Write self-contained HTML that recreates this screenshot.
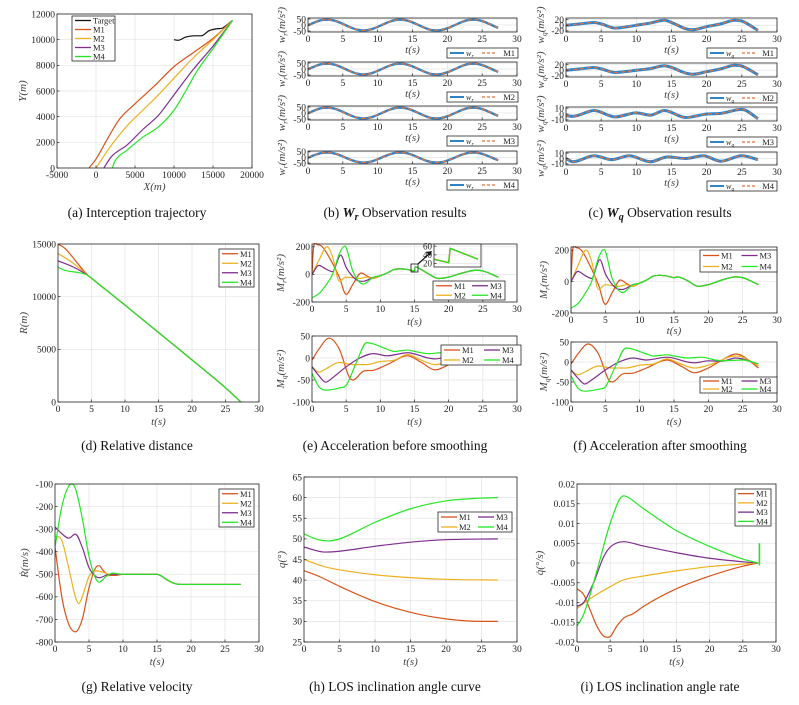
<!DOCTYPE html>
<html><head><meta charset="utf-8"><style>
html,body{margin:0;padding:0;background:#fff}
svg{display:block}
text{font-family:"Liberation Serif",serif}
</style></head><body>
<svg id="fig" xmlns="http://www.w3.org/2000/svg" width="799" height="705" viewBox="0 0 799 705"></svg>
<script>
// ---------- DATA ----------
const C1='#D95319',C2='#EDB120',C3='#7E2F8E',C4='#22E822',CB='#2f84c8',CT='#111';
// (a) trajectories [X,Y]
const trajTarget=[[10000,10000],[10500,9950],[11500,10200],[12500,10300],[13500,10300],[14500,10700],[15500,10850],[16200,10900],[17500,11500]];
const trajM1=[[-900,0],[0,700],[1500,2300],[3000,3800],[5000,5000],[7500,6400],[10000,7900],[12500,9000],[15000,10100],[17500,11500]];
const trajM2=[[0,0],[2000,1800],[4000,3300],[6000,4500],[8000,5700],[10000,7000],[12500,8600],[15000,10000],[17500,11500]];
const trajM3=[[1000,0],[2000,900],[4000,1800],[6000,3000],[8000,4100],[10000,5700],[12500,7700],[15000,9500],[17500,11500]];
const trajM4=[[2100,0],[2400,500],[4000,1400],[6000,2400],[8000,3200],[10000,4500],[11500,6000],[13000,7600],[15000,9300],[17500,11500]];
// (b) w_r observation
const wrObs=[[0,-2.7],[1,23.1],[2,40.8],[3,44.4],[4,32.5],[5,9.4],[6,-17.1],[7,-37.6],[8,-45],[9,-36.8],[10,-15.8],[11,10.7],[12,33.4],[13,44.6],[14,40.2],[15,21.9],[16,-4],[17,-28.6],[18,-43.2],[19,-42.8],[20,-27.5],[21,-2.7],[22,23.1],[23,40.8],[24,44.4],[25,32.5],[26,9.4],[27,-17.1],[27.3,-24]];
// (c) w_q observation
const wqM1=[[0,0],[2,5],[4,10],[5,5],[7,-10],[8,-8],[10,0],[12,8],[14,18],[15,10],[17,-12],[18,-16],[20,-5],[22,5],[24,18],[25,15],[27.3,-18]];
const wqM2=[[0,0],[2,5],[4,10],[5,5],[7,-8],[8,-6],[10,0],[12,6],[14,16],[15,10],[17,-10],[18,-14],[20,-5],[22,5],[24,18],[25,15],[27.3,-16]];
const wqM3=[[0,-3],[1,-4],[4,6],[7,-5],[10,2],[12,-2],[14,6],[17,-6],[20,0],[22,1],[25,8],[27.3,-8]];
const wqM4=[[0,0],[1,-6],[4,5],[6.5,-2],[9,5],[12,-6],[14.5,3],[17,0],[19.5,5],[22,-5],[25,5],[27.3,-2]];
// (d) relative distance
const rTail=[[5,11750],[10,9200],[15,6600],[20,4000],[25,1350],[27.3,0]];
const rM1=[[0,15000],[1,14600],[2,13900],[3,13100],[4.5,12000]];
const rM2=[[0,14100],[2,13300],[4.5,12000]];
const rM3=[[0,13400],[2,12900],[4.5,12000]];
const rM4=[[0,12800],[1,12500],[3,12300],[4,12150],[4.5,12000]];
// (e) Mr before smoothing
const mrTail=[[10,-10],[11,10],[12,35],[13,40],[14,35],[15,25],[15.1,55],[16,35],[17,5],[18.5,-30],[20,-20],[22,10],[24,30],[25,25],[27.3,-20]];
const mrTailSmooth=[[10,-10],[11,10],[12,35],[13,40],[14,35],[15,25],[15.5,30],[16,25],[17,5],[18.5,-30],[20,-20],[22,10],[24,30],[25,25],[27.3,-20]];
const mrM1=[[0,0],[0.2,180],[0.8,215],[1.5,200],[3,80],[4,-20],[5,-145],[6,-70],[7.2,10],[8,-10],[9,-30]];
const mrM2=[[0,0],[1,100],[2.2,200],[3,130],[4,-50],[5,-20],[7,-30],[8,-20],[9,-30]];
const mrM3=[[0,0],[1,65],[2,40],[3,20],[4.2,140],[5,50],[6.5,-40],[7.5,-50],[9,-20]];
const mrM4=[[0,-170],[1,-140],[2,-80],[3,0],[4,150],[4.8,205],[6,20],[7.5,-70],[9,-20]];
// (e)(f) Mq
const mqM1=[[0,-5],[1,20],[2.5,45],[4,20],[5.5,-45],[6,-50],[7.5,-30],[9,-28],[11,-15],[14,5],[16,-10],[18,-27],[20,-15],[22,5],[24,20],[25,15],[27.3,-15]];
const mqM2=[[0,-20],[1,-32],[2,-25],[4,-10],[6,-15],[8,-15],[10,-8],[12,-5],[14,8],[16,-5],[18,-15],[20,-8],[24,15],[25,12],[27.3,-10]];
const mqM3=[[0,-20],[1,-40],[2,-55],[3,-45],[5,-20],[7,0],[9,10],[11,5],[14,12],[17,0],[18,-2],[20,3],[22,2],[24,10],[27.3,-5]];
const mqM4=[[0,-35],[1,-65],[2,-73],[4,-68],[5,-62],[6.5,-10],[8,35],[9,32],[11,20],[12,15],[14,18],[15,15],[17,10],[19,12],[21,5],[22,3],[25,5],[27.3,-5]];
// inset
const insetLine=[[14.5,30],[15.0,22],[15.05,55],[16,30]];
// (g) relative velocity
const vTail=[[15,-500],[15.5,-505],[16.5,-525],[17.5,-540],[18.5,-545],[27.3,-545]];
const vM1=[[0,-380],[1,-600],[2,-720],[3,-755],[4,-700],[5,-560],[6,-470],[6.5,-462],[7,-480],[8,-505],[9,-505],[10,-500]];
const vM2=[[0,-330],[1,-350],[2,-470],[3,-600],[3.5,-630],[4,-600],[5,-510],[6,-485],[7,-490],[8,-500],[10,-500]];
const vM3=[[0,-290],[1,-320],[2,-340],[3,-322],[4,-380],[5,-470],[6,-510],[6.5,-515],[8,-500],[10,-500]];
const vM4=[[0,-380],[1,-200],[2,-110],[2.5,-100],[3,-120],[4,-250],[5,-420],[6,-520],[6.5,-535],[7.5,-510],[8.5,-495],[10,-500]];
// (h) LOS angle
const qM1=[[0,42.3],[2,41],[5,38.5],[10,34.8],[15,32.2],[20,30.6],[25,30],[27.3,30]];
const qM2=[[0,45],[3,43.2],[5,42.5],[10,41.3],[15,40.6],[20,40.2],[27.3,40]];
const qM3=[[0,48],[3,46.8],[5,47],[10,48.2],[15,49.2],[20,49.8],[27.3,50]];
const qM4=[[0,51.2],[2,49.8],[3.5,49.5],[5,50],[10,54],[15,57.3],[20,59.2],[25,59.9],[27.3,60]];
// (i) LOS rate
const qdM1=[[0,-0.0065],[1,-0.008],[2,-0.012],[3,-0.016],[4,-0.0185],[4.8,-0.0188],[6,-0.016],[7,-0.014],[8.5,-0.0128],[10,-0.011],[15,-0.0065],[20,-0.0033],[25,-0.0008],[27.3,0]];
const qdM2=[[0,-0.0115],[2,-0.009],[5,-0.006],[7,-0.0043],[10,-0.0033],[15,-0.002],[20,-0.0009],[27.3,0]];
const qdM3=[[0,-0.011],[1,-0.01],[2.5,-0.005],[4,0.0015],[5,0.004],[7,0.0054],[10,0.0043],[15,0.0026],[20,0.0012],[25,0.0003],[27.3,0]];
const qdM4=[[0,-0.016],[1,-0.013],[3,-0.002],[5,0.01],[7,0.017],[7.5,0.0168],[10,0.0138],[15,0.0082],[20,0.0042],[25,0.001],[27.3,0]];
const qdSpike=[[27.5,-0.0006],[27.5,0.005]];
// ticks
const tTicks=[0,5,10,15,20,25,30];

// ---------- HELPERS ----------
const NS='http://www.w3.org/2000/svg';
const svg=document.getElementById('fig');
let clipN=0;
function mk(tag,parent,attrs){const e=document.createElementNS(NS,tag);for(const k in attrs)e.setAttribute(k,attrs[k]);parent.appendChild(e);return e;}
function txt(parent,x,y,s,size,anchor,name,extra){
  const t=mk('text',parent,Object.assign({x:x,y:y,'font-size':size,'text-anchor':anchor||'middle',fill:'#222'},extra||{}));
  t.textContent=s;
  
  
  return t;
}
function monoPath(pts){
  const n=pts.length;if(n<2)return '';
  if(n===2)return 'M'+pts[0][0]+','+pts[0][1]+'L'+pts[1][0]+','+pts[1][1];
  const d=[],m=[];
  for(let i=0;i<n-1;i++){const h=pts[i+1][0]-pts[i][0];d.push(h===0?0:(pts[i+1][1]-pts[i][1])/h);}
  m[0]=d[0];m[n-1]=d[n-2];
  for(let i=1;i<n-1;i++){m[i]=(d[i-1]*d[i]<=0)?0:(d[i-1]+d[i])/2;}
  let p='M'+pts[0][0].toFixed(2)+','+pts[0][1].toFixed(2);
  for(let i=0;i<n-1;i++){
    const h=pts[i+1][0]-pts[i][0];
    if(h===0){p+='L'+pts[i+1][0]+','+pts[i+1][1];continue;}
    p+='C'+(pts[i][0]+h/3).toFixed(2)+','+(pts[i][1]+m[i]*h/3).toFixed(2)+' '+(pts[i+1][0]-h/3).toFixed(2)+','+(pts[i+1][1]-m[i+1]*h/3).toFixed(2)+' '+pts[i+1][0].toFixed(2)+','+pts[i+1][1].toFixed(2);
  }
  return p;
}
function fmt(v){return String(Math.round(v*100000)/100000);}
function panel(o){
  const g=mk('g',svg,{});
  
  
  const [x0,y0,x1,y1]=o.box;
  const sx=v=>x0+(v-o.xr[0])/(o.xr[1]-o.xr[0])*(x1-x0);
  const sy=v=>y1-(v-o.yr[0])/(o.yr[1]-o.yr[0])*(y1-y0);
  mk('rect',g,{x:x0,y:y0,width:x1-x0,height:y1-y0,fill:'#fff'});
  (o.xt||[]).forEach(v=>{mk('line',g,{x1:sx(v),x2:sx(v),y1:y0,y2:y1,stroke:'#e3e3e3','stroke-width':0.7});});
  (o.yt||[]).forEach(v=>{mk('line',g,{x1:x0,x2:x1,y1:sy(v),y2:sy(v),stroke:'#e3e3e3','stroke-width':0.7});});
  const id='c'+(clipN++);
  const cp=mk('clipPath',g,{id:id});mk('rect',cp,{x:x0,y:y0-1,width:x1-x0,height:y1-y0+2});
  const sg=mk('g',g,{'clip-path':'url(#'+id+')'});
  o.series.forEach(s=>{
    const pts=s.data.map(p=>[sx(p[0]),sy(p[1])]);
    const path=mk('path',sg,{d:s.linear?('M'+pts.map(p=>p[0]+','+p[1]).join('L')):monoPath(pts),fill:'none',stroke:s.color,'stroke-width':s.w||1.2,'stroke-dasharray':s.dash||'none','stroke-linejoin':'round'});
    
    
  });
  mk('rect',g,{x:x0,y:y0,width:x1-x0,height:y1-y0,fill:'none',stroke:'#262626','stroke-width':0.8});
  const fs=o.fs||9.5;
  if(!o.noXLabels)(o.xt||[]).forEach(v=>{
    mk('line',g,{x1:sx(v),x2:sx(v),y1:y1,y2:y1-2.5,stroke:'#262626','stroke-width':0.7});
    txt(g,sx(v),y1+fs+0.5,fmt(v),fs,'middle','x-tick-label');
  });
  (o.yt||[]).forEach((v,i)=>{
    mk('line',g,{x1:x0,x2:x0+2.5,y1:sy(v),y2:sy(v),stroke:'#262626','stroke-width':0.7});
    txt(g,x0-2,sy(v)+fs*0.35,o.ytl?o.ytl[i]:fmt(v),fs,'end','y-tick-label');
  });
  if(o.xlabel){txt(g,(x0+x1)/2,o.xlY||y1+23,o.xlabel,11,'middle','x-axis-title',{'font-style':'italic',fill:'#444'});}
  if(o.ylabel){
    const cx=o.ylX,cy=(y0+y1)/2;
    const t=txt(g,cx,cy,o.ylabel,11,'middle','y-axis-title',{'font-style':'italic',fill:'#444',transform:'rotate(-90 '+cx+' '+cy+')'});
    if(o.ysub){
      t.textContent='';
      const a=mk('tspan',t,{});a.textContent=o.ylabel;
      const b=mk('tspan',t,{'font-size':7.5,dy:2.5});b.textContent=o.ysub;
      const c=mk('tspan',t,{dy:-2.5});c.textContent=o.yrest;
    }
  }
  return {g,sx,sy};
}
function legend(x0,y0,x1,y1,items,cols){
  const g=mk('g',svg,{});
  
  
  mk('rect',g,{x:x0,y:y0,width:x1-x0,height:y1-y0,fill:'#fff',stroke:'#262626','stroke-width':0.8});
  const rows=Math.ceil(items.length/cols),cw=(x1-x0)/cols,rh=(y1-y0)/rows;
  items.forEach((it,i)=>{
    const c=cols===1?0:(i<rows?0:1), r=cols===1?i:(i%rows);
    const lx=x0+c*cw+3, ly=y0+rh*(r+0.5);
    (it.lines||[{color:it.color,dash:it.dash}]).forEach((ln,k)=>{
      const L=it.lines?14:16, off=it.lines?k*32:0;
      mk('line',g,{x1:lx+off,x2:lx+off+L,y1:ly,y2:ly,stroke:ln.color,'stroke-width':ln.w||1.3,'stroke-dasharray':ln.dash||'none'});
    });
    if(it.lines){
      txt(g,lx+16,ly+3,'w',8,'start','legend-label',{'font-style':'italic'});
      txt(g,lx+21.5,ly+4.5,it.sub,5.5,'start','legend-label',{'font-style':'italic'});
      txt(g,x1-3,ly+3,it.label,8.5,'end','legend-label');
    } else {
      txt(g,lx+(it.lw||18),ly+3,it.label,8.5,'start','legend-entry-'+it.label);
    }
  });
}
function caption(x,y,parts,name){
  const t=mk('text',svg,{x:x,y:y,'font-size':13.5,'text-anchor':'middle',fill:'#111'});
  
  
  parts.forEach(p=>{const s=mk('tspan',t,p.attrs||{});s.textContent=p.t;});
}
const M4leg=[{label:'M1',color:C1},{label:'M2',color:C2},{label:'M3',color:C3},{label:'M4',color:C4}];

// ---------- (a) ----------
panel({name:'trajectory-plot',box:[57,14,252,168],xr:[-5000,20000],yr:[0,12000],xt:[-5000,0,5000,10000,15000,20000],yt:[0,2000,4000,6000,8000,10000,12000],
  xlabel:'X(m)',xlY:190,ylabel:'Y(m)',ylX:26,
  series:[{name:'target-line',data:trajTarget,color:CT},{name:'m1-line',data:trajM1,color:C1},{name:'m2-line',data:trajM2,color:C2},{name:'m3-line',data:trajM3,color:C3},{name:'m4-line',data:trajM4,color:C4}]});
legend(72,16,115,61,[{label:'Target',color:CT},...M4leg],1);
caption(137,217,[{t:'(a)  Interception trajectory'}],'caption-a');

// ---------- (b) ----------
[[18,32],[62,76],[106,120],[151,164]].forEach((yy,i)=>{
  panel({name:'wr-subplot-m'+(i+1),box:[308,yy[0],517,yy[1]],xr:[0,30],yr:[-58,58],xt:tTicks,yt:[-50,0,50],fs:9.5,
    xlabel:'t(s)',xlY:yy[1]+21,ylabel:'w',ysub:'r',yrest:'(m/s\u00b2)',ylX:285,
    series:[{name:'wr-true-line',data:wrObs,color:CB,w:2.4},{name:'wr-observed-line',data:wrObs,color:'#E8703A',w:1.3,dash:'4,3'}]});
  legend(447,yy[1]+16,518,yy[1]+26,[{label:'M'+(i+1),sub:'r',lines:[{color:CB,w:2},{color:'#E8703A',dash:'3,2'}]}],1);
});
caption(395,217,[{t:'(b)  '},{t:'W',attrs:{'font-style':'italic','font-weight':'bold'}},{t:'r',attrs:{'font-style':'italic','font-weight':'bold','font-size':10,dy:3}},{t:' Observation results',attrs:{dy:-3}}],'caption-b');

// ---------- (c) ----------
const wqSets=[[wqM1,[-24,26],[-20,0,20]],[wqM2,[-24,26],[-20,0,20]],[wqM3,[-12,12],[-10,0,10]],[wqM4,[-12,12],[-10,0,10]]];
[[18,32],[63,77],[107,121],[152,165]].forEach((yy,i)=>{
  const s=wqSets[i];
  panel({name:'wq-subplot-m'+(i+1),box:[566,yy[0],777,yy[1]],xr:[0,30],yr:s[1],xt:tTicks,yt:s[2],fs:9.5,
    xlabel:'t(s)',xlY:yy[1]+21,ylabel:'w',ysub:'q',yrest:'(m/s\u00b2)',ylX:544,
    series:[{name:'wq-true-line',data:s[0],color:CB,w:3},{name:'wq-observed-line',data:s[0],color:'#E8703A',w:1.3,dash:'4,3'}]});
  legend(707,yy[1]+16,777,yy[1]+26,[{label:'M'+(i+1),sub:'q',lines:[{color:CB,w:2},{color:'#E8703A',dash:'3,2'}]}],1);
});
caption(660,217,[{t:'(c)  '},{t:'W',attrs:{'font-style':'italic','font-weight':'bold'}},{t:'q',attrs:{'font-style':'italic','font-weight':'bold','font-size':10,dy:3}},{t:' Observation results',attrs:{dy:-3}}],'caption-c');

// ---------- (d) ----------
panel({name:'distance-plot',box:[58,244,259,402],xr:[0,30],yr:[0,15000],xt:tTicks,yt:[0,5000,10000,15000],
  xlabel:'t(s)',ylabel:'R(m)',ylX:27,
  series:[{name:'m1-line',data:rM1.concat(rTail),color:C1},{name:'m2-line',data:rM2.concat(rTail),color:C2},{name:'m3-line',data:rM3.concat(rTail),color:C3},{name:'m4-line',data:rM4.concat(rTail),color:C4}]});
legend(219,249,254,287,M4leg,1);
caption(137,450,[{t:'(d)  Relative distance'}],'caption-d');

// ---------- (e) ----------
panel({name:'mr-before-plot',box:[312,244,517,302],xr:[0,30],yr:[-200,220],xt:tTicks,yt:[-200,0,200],
  xlabel:'t(s)',ylabel:'M',ysub:'r',yrest:'(m/s\u00b2)',ylX:284,
  series:[{name:'m1-line',data:mrM1.concat(mrTail),color:C1},{name:'m2-line',data:mrM2.concat(mrTail),color:C2},{name:'m3-line',data:mrM3.concat(mrTail),color:C3},{name:'m4-line',data:mrM4.concat(mrTail),color:C4}]});
legend(433,281,505,300,M4leg,2);
mk('rect',svg,{x:411,y:264,width:7,height:8,fill:'none',stroke:'#111','stroke-width':0.8});
mk('line',svg,{x1:418,y1:264,x2:430,y2:253,stroke:'#111','stroke-width':1.2});
mk('path',svg,{d:'M432,251 L426,252 L430,256 Z',fill:'#111'});
panel({name:'inset-plot',box:[434,244,481,267],xr:[14.5,16.1],yr:[12,65],xt:[],yt:[20,40,60],fs:9,noXLabels:true,
  series:[{name:'inset-m1-line',data:insetLine,color:C1,linear:true,w:1.5},{name:'inset-m4-line',data:insetLine,color:C4,linear:true,w:1.2}]});
panel({name:'mq-before-plot',box:[312,336,517,402],xr:[0,30],yr:[-100,50],xt:tTicks,yt:[-100,-50,0,50],
  xlabel:'t(s)',ylabel:'M',ysub:'q',yrest:'(m/s\u00b2)',ylX:284,
  series:[{name:'m1-line',data:mqM1,color:C1},{name:'m2-line',data:mqM2,color:C2},{name:'m3-line',data:mqM3,color:C3},{name:'m4-line',data:mqM4,color:C4}]});
legend(441,345,521,365,M4leg,2);
caption(395,450,[{t:'(e)  Acceleration before smoothing'}],'caption-e');

// ---------- (f) ----------
panel({name:'mr-after-plot',box:[571,247,777,313],xr:[0,30],yr:[-200,220],xt:tTicks,yt:[-200,0,200],
  xlabel:'t(s)',xlY:334,ylabel:'M',ysub:'r',yrest:'(m/s\u00b2)',ylX:547,
  series:[{name:'m1-line',data:mrM1.concat(mrTailSmooth),color:C1},{name:'m2-line',data:mrM2.concat(mrTailSmooth),color:C2},{name:'m3-line',data:mrM3.concat(mrTailSmooth),color:C3},{name:'m4-line',data:mrM4.concat(mrTailSmooth),color:C4}]});
legend(700,250,777,272,M4leg,2);
panel({name:'mq-after-plot',box:[571,342,777,402],xr:[0,30],yr:[-100,50],xt:tTicks,yt:[-100,-50,0,50],
  xlabel:'t(s)',ylabel:'M',ysub:'q',yrest:'(m/s\u00b2)',ylX:547,
  series:[{name:'m1-line',data:mqM1,color:C1},{name:'m2-line',data:mqM2,color:C2},{name:'m3-line',data:mqM3,color:C3},{name:'m4-line',data:mqM4,color:C4}]});
legend(700,377,777,393,M4leg,2);
caption(660,450,[{t:'(f)  Acceleration after smoothing'}],'caption-f');

// ---------- (g) ----------
panel({name:'velocity-plot',box:[55,484,259,642],xr:[0,30],yr:[-800,-100],xt:tTicks,yt:[-800,-700,-600,-500,-400,-300,-200,-100],
  xlabel:'t(s)',ylabel:'\u1e58(m/s)',ylX:28,
  series:[{name:'m1-line',data:vM1.concat(vTail),color:C1},{name:'m2-line',data:vM2.concat(vTail),color:C2},{name:'m3-line',data:vM3.concat(vTail),color:C3},{name:'m4-line',data:vM4.concat(vTail),color:C4}]});
legend(219,489,254,527,M4leg,1);
caption(137,691,[{t:'(g)  Relative velocity'}],'caption-g');

// ---------- (h) ----------
panel({name:'los-angle-plot',box:[304,477,517,642],xr:[0,30],yr:[25,65],xt:tTicks,yt:[25,30,35,40,45,50,55,60,65],
  xlabel:'t(s)',ylabel:'q(\u00b0)',ylX:285,
  series:[{name:'m1-line',data:qM1,color:C1},{name:'m2-line',data:qM2,color:C2},{name:'m3-line',data:qM3,color:C3},{name:'m4-line',data:qM4,color:C4}]});
legend(438,512,512,532,M4leg,2);
caption(395,691,[{t:'(h)  LOS inclination angle curve'}],'caption-h');

// ---------- (i) ----------
const qdTicks=[-0.02,-0.015,-0.01,-0.005,0,0.005,0.01,0.015,0.02];
const qdTickLabels=['-0.02','-0.015','-0.01','-0.005','0','0.005','0.01','0.015','0.02'];
panel({name:'los-rate-plot',box:[577,484,776,642],xr:[0,30],yr:[-0.02,0.02],xt:tTicks,yt:qdTicks,ytl:qdTickLabels,
  xlabel:'t(s)',ylabel:'q\u0307(\u00b0/s)',ylX:543,
  series:[{name:'m1-line',data:qdM1,color:C1},{name:'m2-line',data:qdM2,color:C2},{name:'m3-line',data:qdM3,color:C3},{name:'m4-line',data:qdM4,color:C4},{name:'m4-spike',data:qdSpike,color:C4,linear:true,w:1.6}]});
legend(735,489,771,526,M4leg,1);
caption(660,691,[{t:'(i)  LOS inclination angle rate'}],'caption-i');
</script>
</body></html>
